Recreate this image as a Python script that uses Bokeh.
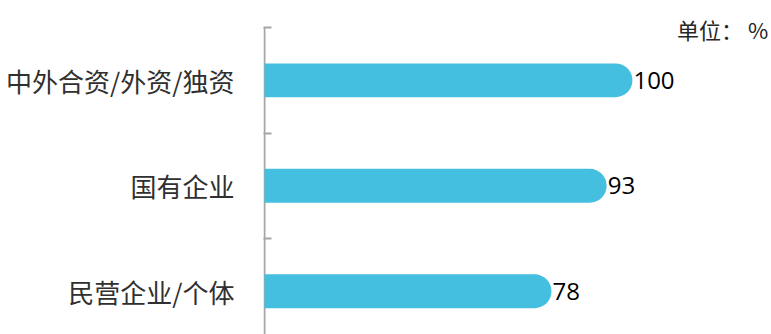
from bokeh.plotting import figure
from bokeh.models import ColumnDataSource, FixedTicker, Range1d, Label
from bokeh.core.properties import value
from bokeh.embed import file_html
from bokeh.resources import INLINE

categories = ["中外合资/外资/独资", "国有企业", "民营企业/个体"]
values = [100, 93, 78]
positions = [2.5, 1.5, 0.5]
value_labels = ["100", "93", "78"]
unit_text = "单位： %"

src = ColumnDataSource(dict(y=positions, v=values, t=value_labels))

p = figure(width=771, height=334, output_backend="svg", toolbar_location=None,
           x_range=Range1d(-0.27, 137.8), y_range=Range1d(0.09, 3.256),
           min_border_left=263, min_border_right=0, min_border_top=0, min_border_bottom=0)
p.outline_line_color = None
p.xgrid.visible = False
p.ygrid.visible = False
p.xaxis.visible = False
p.background_fill_color = "white"
p.border_fill_color = "white"

# category axis line (stops at the top band boundary)
p.segment(x0=[0], y0=[0.09], x1=[0], y1=[3.0], line_color="#A6A6A6", line_width=2)

p.hbar(y="y", left=0, right="v", height=0.32, source=src, fill_color="#45BFDF",
       line_color=None, border_radius=(0, 17, 17, 0))

p.text(x="v", y="y", text="t", source=src, x_offset=1, text_align="left",
       text_baseline="middle", text_font=value("Open Sans"), text_font_size="24px",
       text_color="black")

ya = p.yaxis[0]
ya.ticker = FixedTicker(ticks=positions, minor_ticks=[1, 2, 3])
ya.major_label_overrides = {pos: c for pos, c in zip(positions, categories)}
ya.major_tick_line_color = None
ya.minor_tick_in = 8
ya.minor_tick_out = 0
ya.minor_tick_line_color = "#A6A6A6"
ya.minor_tick_line_width = 2
ya.axis_line_color = None
ya.major_label_standoff = 23
ya.major_label_text_font = "Noto Sans CJK SC"
ya.major_label_text_font_size = "26px"
ya.major_label_text_color = "#303030"

p.add_layout(Label(x=136.9, y=2.99, text=unit_text,
                   text_align="right", text_baseline="middle",
                   text_font="Noto Sans CJK SC", text_font_size="22px", text_color="#262626"))

open("out.html", "w").write(file_html(p, INLINE))
